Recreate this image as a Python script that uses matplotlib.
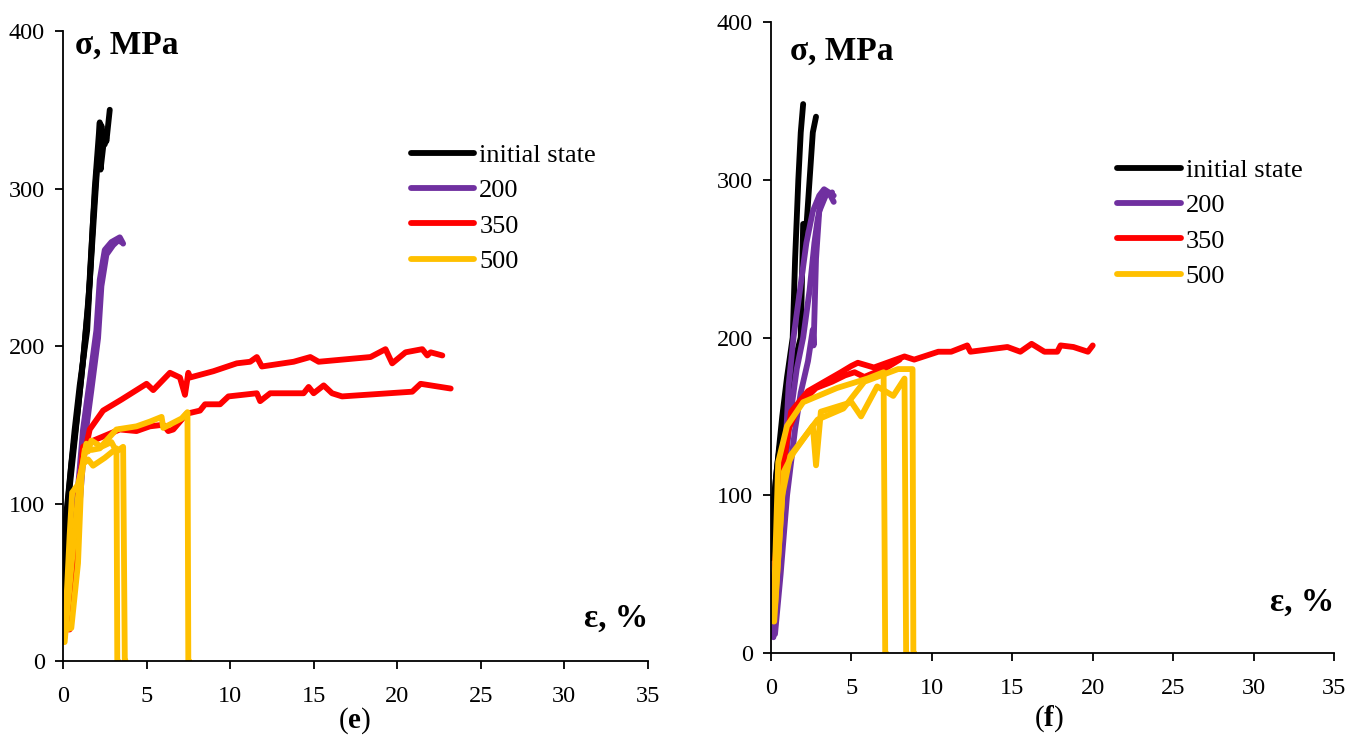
import matplotlib.pyplot as plt

plt.rcParams['font.family'] = 'Liberation Serif'
plt.rcParams['mathtext.fontset'] = 'custom'
plt.rcParams['mathtext.rm'] = 'Liberation Serif'
plt.rcParams['mathtext.bf'] = 'Liberation Serif:bold'

BLACK = '#000000'
PURPLE = '#7030A0'
RED = '#FF0000'
YELLOW = '#FFC000'

# ---- panel (e) ----
e_init_x1 = [0, 0.1, 0.3, 0.7, 1.0, 1.45, 1.9, 2.2, 2.25, 2.5, 2.6, 2.8]
e_init_y1 = [30, 83, 104, 147, 175, 210, 300, 342, 312, 335, 330, 350]
e_init_x2 = [0, 0.2, 0.5, 0.9, 1.2, 1.6, 1.9, 2.1, 2.3, 2.5, 2.6]
e_init_y2 = [45, 90, 125, 160, 190, 240, 290, 322, 340, 328, 332]
e_init_x3 = [0, 0.15, 0.4, 0.8, 1.1, 1.5, 1.8, 2.0, 2.3]
e_init_y3 = [20, 70, 110, 150, 180, 225, 280, 310, 335]

e_200_x1 = [0.2, 0.5, 0.9, 1.2, 1.6, 2.0, 2.2, 2.5, 2.9, 3.4, 3.6]
e_200_y1 = [30, 70, 110, 147, 178, 210, 242, 261, 266, 269, 265]
e_200_x2 = [0.3, 0.6, 1.0, 1.3, 1.7, 2.1, 2.3, 2.6, 3.0, 3.3, 3.5]
e_200_y2 = [25, 60, 100, 140, 172, 205, 238, 258, 264, 267, 266]

e_350_x1 = [0.3, 0.6, 1.0, 1.6, 2.4, 3.5, 5.0, 5.4, 6.4, 7.0, 7.3, 7.5, 7.6, 9.0,
            10.4, 11.2, 11.6, 11.9, 13.8, 14.8, 15.3, 18.4, 19.3, 19.7, 20.5,
            21.5, 21.8, 22.0, 22.7]
e_350_y1 = [20, 62, 117, 147, 159, 166, 176, 172, 183, 180, 169, 183, 180, 184,
            189, 190, 193, 187, 190, 193, 190, 193, 198, 189, 196,
            198, 194, 196, 194]
e_350_x2 = [0.4, 0.8, 1.2, 1.6, 2.5, 3.4, 4.4, 5.2, 6.0, 6.3, 6.6, 7.4, 8.2, 8.5,
            9.4, 9.9, 11.6, 11.8, 12.4, 14.4, 14.7, 15.0, 15.6, 16.1, 16.7,
            20.9, 21.4, 23.2]
e_350_y2 = [20, 80, 136, 139, 143, 147, 146, 149, 150, 146, 147, 157, 159, 163,
            163, 168, 170, 165, 170, 170, 174, 170, 175, 170, 168,
            171, 176, 173]

e_500_x1 = [0.1, 0.4, 0.55, 0.9, 1.2, 1.5, 1.8, 2.5, 3.2, 3.25, 3.3]
e_500_y1 = [15, 80, 107, 112, 125, 128, 124, 129, 135, 0, 0]
e_500_x2 = [0.2, 0.5, 0.9, 1.1, 1.3, 1.5, 1.7, 2.3, 2.9, 3.2, 3.6, 3.7, 3.75]
e_500_y2 = [20, 21, 62, 115, 134, 133, 140, 136, 139, 133, 136, 0, 0]
e_500_x3 = [0.1, 0.5, 1.0, 1.4, 1.7, 2.2, 2.6, 3.2, 4.4, 5.2, 5.9, 6.0, 7.1,
            7.45, 7.5, 7.55]
e_500_y3 = [12, 60, 115, 138, 134, 135, 140, 147, 149, 152, 155, 148, 154,
            158, 0, 0]

# ---- panel (f) ----
f_init_x1 = [0, 0.3, 0.7, 1.0, 1.35, 1.5, 1.7, 1.85, 2.0]
f_init_y1 = [60, 110, 150, 175, 200, 250, 300, 330, 348]
f_init_x2 = [0, 0.4, 0.8, 1.2, 1.6, 1.85, 2.0, 2.2, 2.4, 2.6, 2.8]
f_init_y2 = [80, 120, 150, 170, 190, 200, 272, 270, 300, 330, 340]

f_200_x1 = [0.15, 0.4, 0.7, 0.9, 1.1, 1.4, 1.8, 2.2, 2.6, 3.0, 3.3, 3.6, 3.9]
f_200_y1 = [10, 40, 80, 130, 170, 200, 230, 260, 280, 290, 294, 292, 286]
f_200_x2 = [0.2, 0.5, 0.8, 1.2, 1.6, 2.0, 2.4, 2.7, 2.9, 3.1, 3.5, 3.9]
f_200_y2 = [15, 60, 110, 150, 180, 200, 230, 260, 275, 285, 292, 290]
f_200_x3 = [0.25, 0.6, 1.0, 1.5, 1.85, 2.3, 2.6, 2.65, 2.8, 3.0, 3.4, 3.8]
f_200_y3 = [12, 50, 100, 142, 165, 185, 205, 195, 250, 280, 290, 292]

f_350_x1 = [0.1, 0.6, 1.25, 2.3, 4.35, 5.0, 5.4, 6.4, 8.3, 8.9, 10.4, 11.2,
            12.2, 12.4, 14.7, 15.5, 16.2, 17.0, 17.8, 18.0, 18.8, 19.7, 20.0]
f_350_y1 = [30, 106, 153, 166, 178, 182, 184, 181, 188, 186, 191, 191,
            195, 191, 194, 191, 196, 191, 191, 195, 194, 191, 195]
f_350_x2 = [0.15, 0.5, 1.0, 1.8, 2.8, 3.8, 4.6, 5.2, 5.8, 6.5, 7.2, 8.0]
f_350_y2 = [40, 95, 140, 158, 168, 172, 176, 178, 175, 178, 181, 186]

f_500_x1 = [0.15, 0.45, 1.0, 2.0, 4.1, 6.0, 7.0, 7.1, 7.15]
f_500_y1 = [20, 121, 144, 159, 168, 174, 178, 0, 0]
f_500_x2 = [0.2, 0.8, 1.4, 2.6, 2.8, 3.1, 5.0, 5.6, 6.6, 7.6, 8.3, 8.4, 8.45]
f_500_y2 = [20, 115, 127, 144, 119, 153, 159, 150, 169, 163, 174, 0, 0]
f_500_x3 = [0.25, 0.7, 1.2, 2.9, 4.5, 5.8, 7.9, 8.8, 8.85, 8.9]
f_500_y3 = [30, 100, 125, 148, 155, 172, 180, 180, 0, 0]

xticks = [0, 5, 10, 15, 20, 25, 30, 35]
yticks = [0, 100, 200, 300, 400]
labels = ['initial state', '200', '350', '500']

fig = plt.figure(figsize=(13.6, 7.47), dpi=100)
ax_e = fig.add_axes([0.0463, 0.1151, 0.4301, 0.8434])
ax_f = fig.add_axes([0.5669, 0.1258, 0.4140, 0.8447])

panels = [
    (ax_e,
     [(e_init_x1, e_init_y1), (e_init_x2, e_init_y2), (e_init_x3, e_init_y3)],
     [(e_200_x1, e_200_y1), (e_200_x2, e_200_y2)],
     [(e_350_x1, e_350_y1), (e_350_x2, e_350_y2)],
     [(e_500_x1, e_500_y1), (e_500_x2, e_500_y2), (e_500_x3, e_500_y3)]),
    (ax_f,
     [(f_init_x1, f_init_y1), (f_init_x2, f_init_y2)],
     [(f_200_x1, f_200_y1), (f_200_x2, f_200_y2), (f_200_x3, f_200_y3)],
     [(f_350_x1, f_350_y1), (f_350_x2, f_350_y2)],
     [(f_500_x1, f_500_y1), (f_500_x2, f_500_y2), (f_500_x3, f_500_y3)]),
]

for ax, *groups in panels:
    handles = []
    for curves, col in zip(groups, [BLACK, PURPLE, RED, YELLOW]):
        for x, y in curves:
            ln, = ax.plot(x, y, color=col, lw=4.2, solid_joinstyle='round',
                          solid_capstyle='round')
        handles.append(ln)
    ax.set_xlim(0, 35)
    ax.set_ylim(0, 400)
    ax.set_xticks(xticks)
    ax.set_yticks(yticks)
    ax.spines['top'].set_visible(False)
    ax.spines['right'].set_visible(False)
    ax.spines['left'].set_linewidth(1.3)
    ax.spines['bottom'].set_linewidth(1.3)
    ax.tick_params(direction='out', length=6, width=1.3, labelsize=17.5)
    ax.tick_params(axis='x', pad=12)
    ax.tick_params(axis='y', pad=7)
    ax.patch.set_alpha(0)

    if ax is ax_e:
        ax.text(0.02, 0.977, 'σ, MPa', transform=ax.transAxes, fontsize=24,
                fontweight='bold', va='center', ha='left')
        ax.text(1.0, 0.068, 'ε, %', transform=ax.transAxes, fontsize=24,
                fontweight='bold', va='center', ha='right')
        leg_anchor = (0.302, 0.808)
    else:
        ax.text(0.034, 0.954, 'σ, MPa', transform=ax.transAxes, fontsize=24,
                fontweight='bold', va='center', ha='left')
        ax.text(1.0, 0.081, 'ε, %', transform=ax.transAxes, fontsize=24,
                fontweight='bold', va='center', ha='right')
        leg_anchor = (0.8215, 0.788)
    fig.legend(handles, labels, loc='upper left', bbox_to_anchor=leg_anchor,
               frameon=False, fontsize=19, handlelength=2.4, handletextpad=0.2,
               labelspacing=0.45, borderaxespad=0, borderpad=0)

fig.text(355 / 1360, 1 - 721 / 747, r'($\mathbf{e}$)', fontsize=21,
         ha='center', va='center')
fig.text(1049 / 1360, 1 - 719 / 747, r'($\mathbf{f}$)', fontsize=21,
         ha='center', va='center')

fig.savefig('out.png', dpi=100)
